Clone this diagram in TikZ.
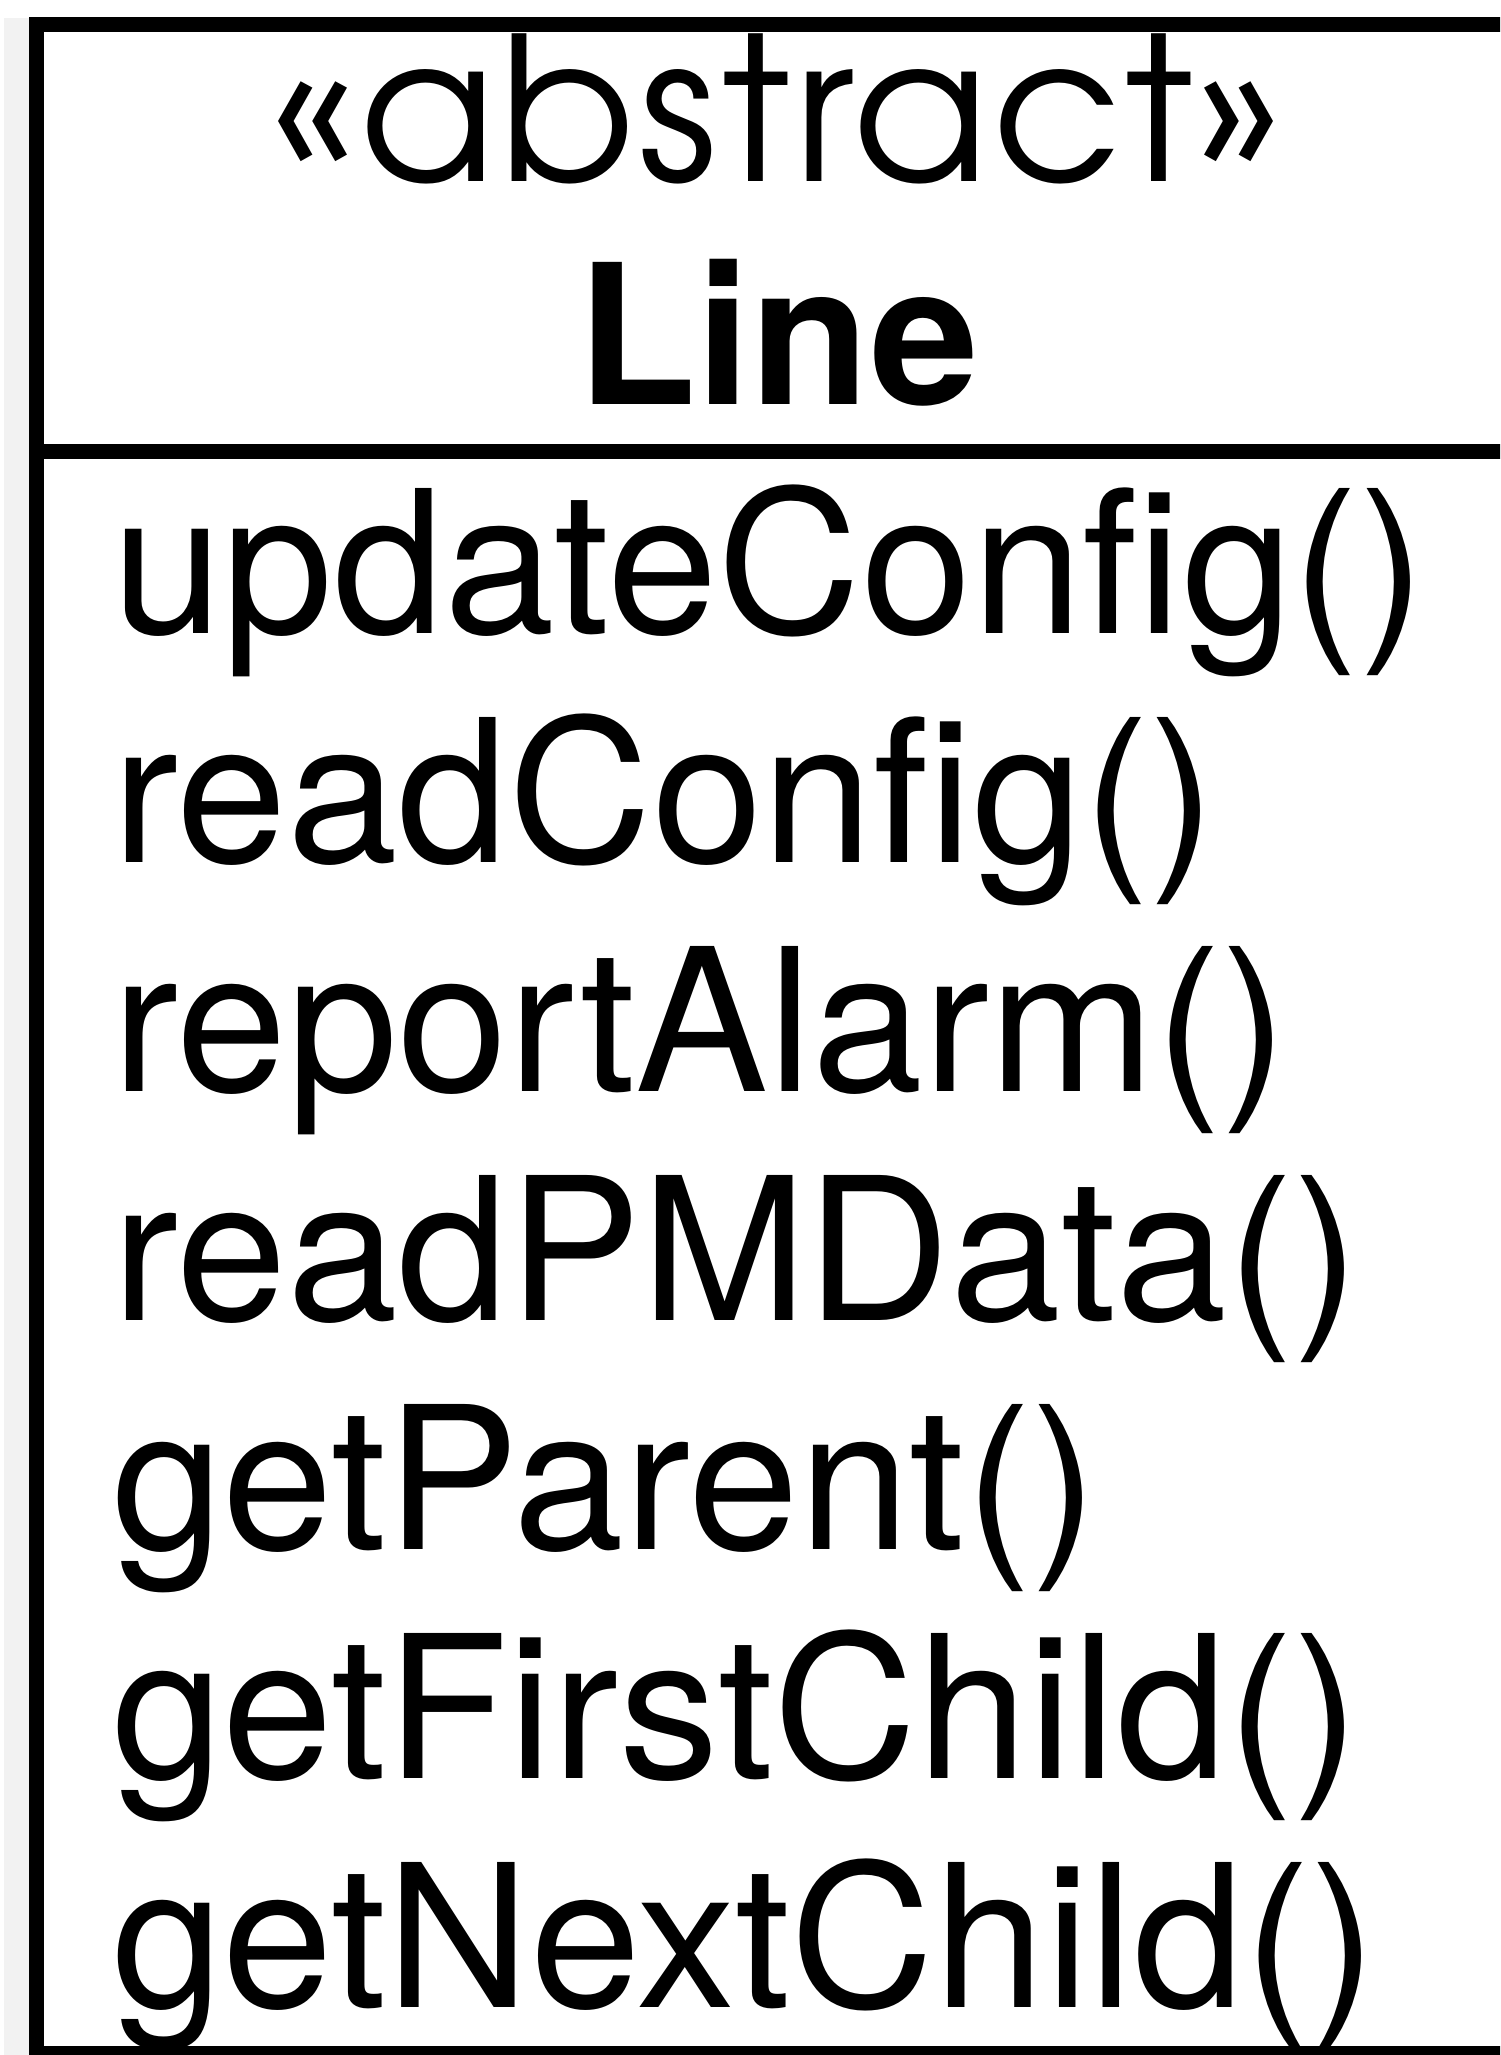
\documentclass[tikz,border=0pt]{standalone}
\usepackage{fontspec}
\setmainfont{TeX Gyre Heros}
\newfontfamily\gothicfont[LetterSpace=1.8]{texgyreadventor-regular.otf}
\begin{document}
\begin{tikzpicture}[x=1pt,y=-1pt,
  boxline/.style={line width=15pt, black},
  method/.style={anchor=base west, inner sep=0pt, font=\fontsize{199}{229}\selectfont},
  title/.style={anchor=base, inner sep=0pt}
  ]
\useasboundingbox (0,0) rectangle (1500,2055);
\clip (0,0) rectangle (1500,2055);
\fill[gray!10] (4,18) rectangle (29,2055);
\coordinate (tl) at (36,25);
\coordinate (br) at (1516,2053);
\coordinate (dl) at (36,451);
\coordinate (dr) at (1516,451);
\draw[boxline] (tl) rectangle (br);
\draw[boxline] (dl) -- (dr);
\node[title, font=\gothicfont\fontsize{200}{230}\selectfont] (stereo) at (776,182) {«abstract»};
\node[title, font=\fontsize{195}{229}\selectfont\bfseries] (name) at (778,404) {Line};
\node[method] (m1) at (112,633) {updateConfig()};
\node[method] (m2) at (112,862) {readConfig()};
\node[method] (m3) at (112,1091) {reportAlarm()};
\node[method] (m4) at (112,1320) {readPMData()};
\node[method] (m5) at (112,1549) {getParent()};
\node[method] (m6) at (112,1778) {getFirstChild()};
\node[method] (m7) at (112,2007) {getNextChild()};
\end{tikzpicture}
\end{document}
